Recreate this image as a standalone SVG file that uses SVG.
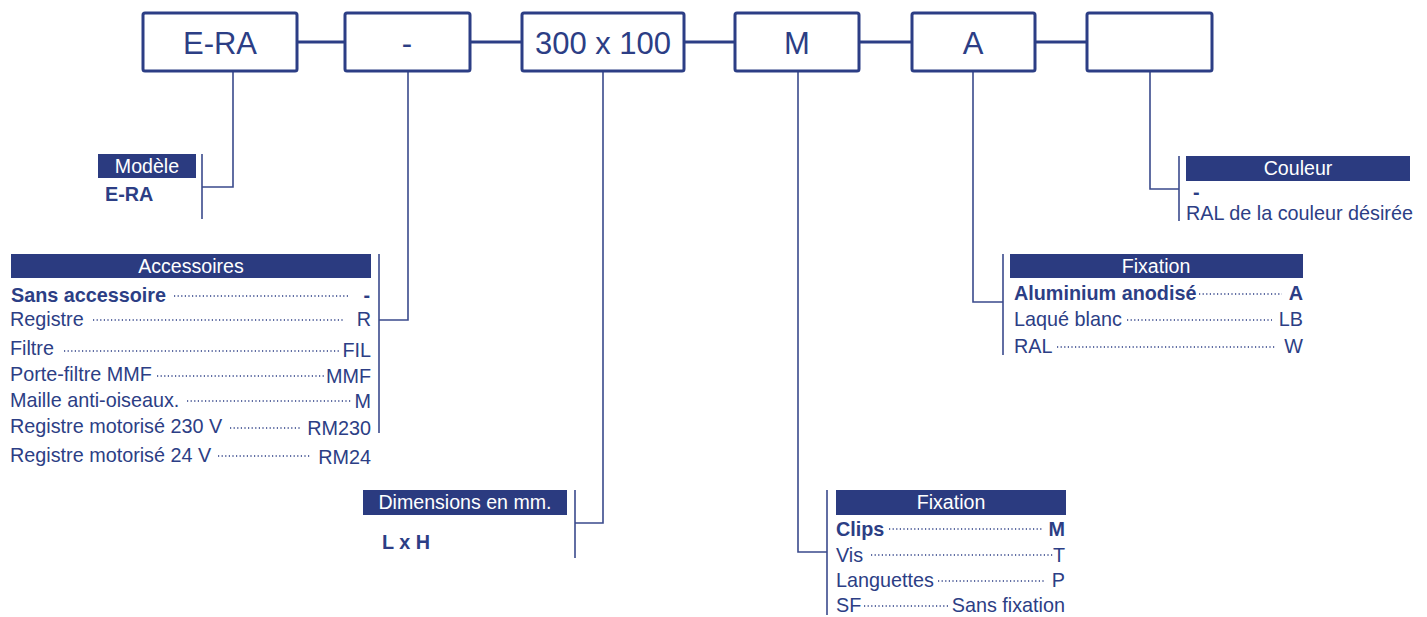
<svg xmlns="http://www.w3.org/2000/svg" width="1427" height="617" viewBox="0 0 1427 617">
<style>
  .box { fill: #ffffff; stroke: #2c3e85; stroke-width: 3; }
  .btxt { font-family: "Liberation Sans", Arial, sans-serif; font-size: 31px; fill: #2c3e85; text-anchor: middle; }
  .conn { stroke: #2c3e85; stroke-width: 3; fill: none; }
  .lead { stroke: #3a4a8c; stroke-width: 1.6; fill: none; }
  .hdr { fill: #2b3b80; }
  .htxt { font-family: "Liberation Sans", Arial, sans-serif; font-size: 19.6px; fill: #ffffff; text-anchor: middle; }
  .t { font-family: "Liberation Sans", Arial, sans-serif; font-size: 19.8px; fill: #2c3e85; }
  .b { font-weight: bold; }
  .r { text-anchor: end; }
  .dots { stroke: #2c3e85; stroke-width: 1.5; stroke-dasharray: 1.2 2.4; fill: none; }
</style>

<g id="connectors">
  <line class="conn" x1="297" y1="42" x2="345" y2="42"/>
  <line class="conn" x1="470" y1="42" x2="522" y2="42"/>
  <line class="conn" x1="684" y1="42" x2="735" y2="42"/>
  <line class="conn" x1="859" y1="42" x2="912" y2="42"/>
  <line class="conn" x1="1035" y1="42" x2="1087" y2="42"/>
  <polyline class="lead" points="233,71 233,187 202,187"/>
  <polyline class="lead" points="408,71 408,320 379,320"/>
  <polyline class="lead" points="603,71 603,523 575,523"/>
  <polyline class="lead" points="798,71 798,552 827,552"/>
  <polyline class="lead" points="973,71 973,302 1003,302"/>
  <polyline class="lead" points="1150,71 1150,189 1179,189"/>
</g>

<g id="box-era"><rect class="box" x="143" y="13" width="154" height="58" rx="2"/><text class="btxt" x="220" y="54">E-RA</text></g>
<g id="box-acc"><rect class="box" x="345" y="13" width="125" height="58" rx="2"/><text class="btxt" x="407" y="54">-</text></g>
<g id="box-dim"><rect class="box" x="522" y="13" width="162" height="58" rx="2"/><text class="btxt" x="603" y="54">300 x 100</text></g>
<g id="box-fix"><rect class="box" x="735" y="13" width="124" height="58" rx="2"/><text class="btxt" x="797" y="54">M</text></g>
<g id="box-fin"><rect class="box" x="912" y="13" width="123" height="58" rx="2"/><text class="btxt" x="973" y="54">A</text></g>
<g id="box-col"><rect class="box" x="1087" y="13" width="125" height="58" rx="2"/></g>

<g id="modele">
  <line class="lead" x1="202" y1="154" x2="202" y2="219"/>
  <rect class="hdr" x="98" y="154" width="98" height="24"/>
  <text class="htxt" x="147" y="173">Modèle</text>
  <text class="t b" x="105" y="201">E-RA</text>
</g>

<g id="accessoires">
  <line class="lead" x1="379" y1="254" x2="379" y2="433"/>
  <rect class="hdr" x="11" y="254" width="360" height="24"/>
  <text class="htxt" x="191" y="273">Accessoires</text>
  <text class="t b" x="11" y="302">Sans accessoire</text>
  <line class="dots" x1="174" y1="296" x2="348" y2="296"/>
  <text class="t b r" x="370" y="302">-</text>
  <text class="t" x="10" y="326">Registre</text>
  <line class="dots" x1="93" y1="320" x2="343" y2="320"/>
  <text class="t r" x="371" y="326">R</text>
  <text class="t" x="10" y="355">Filtre</text>
  <line class="dots" x1="64" y1="351" x2="340" y2="351"/>
  <text class="t r" x="371" y="357">FIL</text>
  <text class="t" x="10" y="381">Porte-filtre MMF</text>
  <line class="dots" x1="157" y1="376" x2="326" y2="376"/>
  <text class="t r" x="371" y="383">MMF</text>
  <text class="t" x="10" y="407">Maille anti-oiseaux.</text>
  <line class="dots" x1="187" y1="401" x2="351" y2="401"/>
  <text class="t r" x="371" y="408">M</text>
  <text class="t" x="10" y="433">Registre motorisé 230 V</text>
  <line class="dots" x1="230" y1="428" x2="301" y2="428"/>
  <text class="t r" x="371" y="435">RM230</text>
  <text class="t" x="10" y="462">Registre motorisé 24 V</text>
  <line class="dots" x1="218" y1="456" x2="311" y2="456"/>
  <text class="t r" x="371" y="464">RM24</text>
</g>

<g id="dimensions">
  <line class="lead" x1="575" y1="490" x2="575" y2="558"/>
  <rect class="hdr" x="363" y="490" width="204" height="25"/>
  <text class="htxt" x="465" y="509">Dimensions en mm.</text>
  <text class="t b" x="382" y="549">L x H</text>
</g>

<g id="fixation">
  <line class="lead" x1="827" y1="490" x2="827" y2="615"/>
  <rect class="hdr" x="836" y="490" width="230" height="25"/>
  <text class="htxt" x="951" y="509">Fixation</text>
  <text class="t b" x="836" y="536">Clips</text>
  <line class="dots" x1="889" y1="529" x2="1043" y2="529"/>
  <text class="t b r" x="1065" y="536">M</text>
  <text class="t" x="836" y="562">Vis</text>
  <line class="dots" x1="871" y1="555" x2="1053" y2="555"/>
  <text class="t r" x="1065" y="562">T</text>
  <text class="t" x="836" y="587">Languettes</text>
  <line class="dots" x1="938" y1="581" x2="1046" y2="581"/>
  <text class="t r" x="1065" y="587">P</text>
  <text class="t" x="836" y="612">SF</text>
  <line class="dots" x1="864" y1="606" x2="948" y2="606"/>
  <text class="t r" x="1065" y="612">Sans fixation</text>
</g>

<g id="finition">
  <line class="lead" x1="1003" y1="254" x2="1003" y2="355"/>
  <rect class="hdr" x="1010" y="254" width="293" height="24"/>
  <text class="htxt" x="1156" y="273">Fixation</text>
  <text class="t b" x="1014" y="300">Aluminium anodisé</text>
  <line class="dots" x1="1199" y1="294" x2="1282" y2="294"/>
  <text class="t b r" x="1303" y="300">A</text>
  <text class="t" x="1014" y="326">Laqué blanc</text>
  <line class="dots" x1="1127" y1="320" x2="1272" y2="320"/>
  <text class="t r" x="1303" y="326">LB</text>
  <text class="t" x="1014" y="353">RAL</text>
  <line class="dots" x1="1057" y1="347" x2="1275" y2="347"/>
  <text class="t r" x="1303" y="353">W</text>
</g>

<g id="couleur">
  <line class="lead" x1="1179" y1="156" x2="1179" y2="221"/>
  <rect class="hdr" x="1186" y="156" width="224" height="25"/>
  <text class="htxt" x="1298" y="175">Couleur</text>
  <text class="t b" x="1193" y="199">-</text>
  <text class="t" x="1186" y="220">RAL de la couleur désirée</text>
</g>
</svg>
